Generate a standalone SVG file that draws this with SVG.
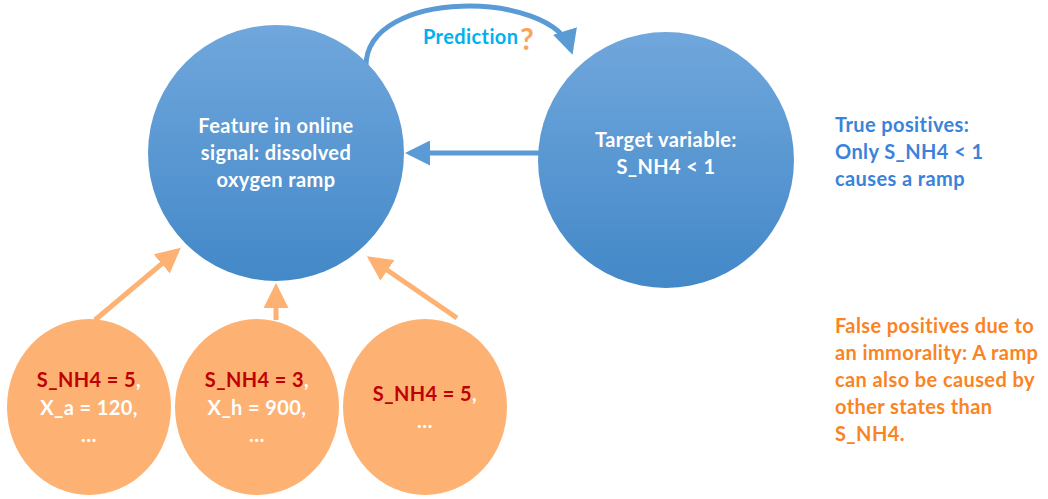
<svg xmlns="http://www.w3.org/2000/svg" width="1048" height="499" viewBox="0 0 1048 499">
<defs>
<linearGradient id="blueGrad" x1="0" y1="0" x2="0" y2="1">
<stop offset="0" stop-color="#70A7DC"/>
<stop offset="1" stop-color="#4388C8"/>
</linearGradient>
<marker id="blueHead" markerWidth="5" markerHeight="5" refX="4" refY="2.5" orient="auto" markerUnits="strokeWidth">
<path d="M0,0 L5,2.5 L0,5 Z" fill="#5B9BD5"/>
</marker>
<marker id="orangeHead" markerWidth="5" markerHeight="5" refX="4" refY="2.5" orient="auto" markerUnits="strokeWidth">
<path d="M0,0 L5,2.5 L0,5 Z" fill="#FDB172"/>
</marker>
<style>
text{font-family:Lato,"Liberation Sans",sans-serif;font-weight:bold;font-size:20px;letter-spacing:0.4px}
.w{fill:#FFFFFF}
.c{text-anchor:middle}
.r{fill:#C00000}
.bl{fill:#3B82DB}
.or{fill:#FA8423}
.blue{fill:url(#blueGrad)}
.orange{fill:#FDB172}
.bc{stroke:#5B9BD5;stroke-width:5;fill:none;marker-end:url(#blueHead)}
.oc{stroke:#FDB172;stroke-width:5;fill:none;marker-end:url(#orangeHead)}
</style>
</defs>
<g id="connectors">
<path class="bc" d="M366,66 C366,-12 552,-10 571,50"/>
<path class="bc" d="M540,153 L410,153"/>
<path class="oc" d="M95,320 L177,251"/>
<path class="oc" d="M276,320 L276,288"/>
<path class="oc" d="M457,318 L371,259"/>
</g>
<g id="label-prediction">
<text x="423" y="44" style="fill:#00B0F0">Prediction</text>
<text x="520" y="50" style="fill:#F9A55E;font-size:30px">?</text>
</g>
<g id="node-feature">
<circle class="blue" cx="276" cy="153" r="128"/>
<text class="w c" x="276" y="133">Feature in online</text>
<text class="w c" x="276" y="160">signal: dissolved</text>
<text class="w c" x="276" y="187">oxygen ramp</text>
</g>
<g id="node-target">
<circle class="blue" cx="666" cy="160" r="128"/>
<text class="w c" x="666" y="147">Target variable:</text>
<text class="w c" x="666" y="174">S_NH4 &lt; 1</text>
</g>
<g id="node-state1">
<ellipse class="orange" cx="89" cy="407" rx="82" ry="88"/>
<text class="c" x="89" y="387"><tspan class="r">S_NH4 = 5</tspan><tspan class="w">,</tspan></text>
<text class="w c" x="89" y="415">X_a = 120,</text>
<text class="w c" x="89" y="442">…</text>
</g>
<g id="node-state2">
<ellipse class="orange" cx="257" cy="407" rx="82" ry="88"/>
<text class="c" x="257" y="387"><tspan class="r">S_NH4 = 3</tspan><tspan class="w">,</tspan></text>
<text class="w c" x="257" y="415">X_h = 900,</text>
<text class="w c" x="257" y="442">…</text>
</g>
<g id="node-state3">
<ellipse class="orange" cx="425" cy="407" rx="82" ry="88"/>
<text class="c" x="425" y="401"><tspan class="r">S_NH4 = 5</tspan><tspan class="w">,</tspan></text>
<text class="w c" x="425" y="428">…</text>
</g>
<g id="note-true">
<text class="bl" x="835" y="132">True positives:</text>
<text class="bl" x="835" y="159">Only S_NH4 &lt; 1</text>
<text class="bl" x="835" y="186">causes a ramp</text>
</g>
<g id="note-false">
<text class="or" x="835" y="333">False positives due to</text>
<text class="or" x="835" y="360">an immorality: A ramp</text>
<text class="or" x="835" y="387">can also be caused by</text>
<text class="or" x="835" y="414">other states than</text>
<text class="or" x="835" y="441">S_NH4.</text>
</g>
</svg>
